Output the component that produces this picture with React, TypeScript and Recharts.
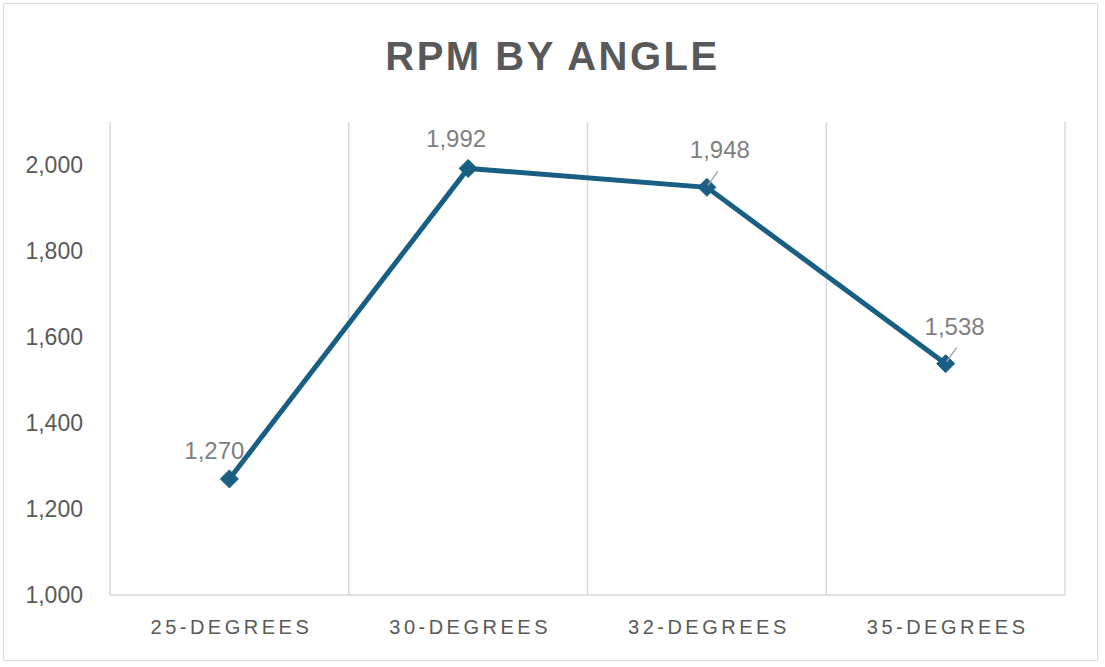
import { LineChart, Line, XAxis, YAxis, CartesianGrid, LabelList } from 'recharts'

const angles = ['25-DEGREES', '30-DEGREES', '32-DEGREES', '35-DEGREES']
const rpm = [1270, 1992, 1948, 1538]
const yTicks = [1000, 1200, 1400, 1600, 1800, 2000]

const data = angles.map((angle, i) => ({ angle, rpm: rpm[i] }))

const LINE = '#195e83'
const GRID = '#d9d9d9'
const FONT = '"Liberation Sans", Arial, sans-serif'

// label placement relative to its point (Excel-style nudges)
const labelNudge = [
  { dx: -15, dy: -20, leader: false },
  { dx: -12, dy: -21, leader: false },
  { dx: 13, dy: -29, leader: true },
  { dx: 9, dy: -29, leader: true },
]

function Diamond(props: any) {
  const { cx, cy } = props
  if (cx == null || cy == null) return null
  const r = 9
  return (
    <polygon
      points={`${cx},${cy - r} ${cx + r},${cy} ${cx},${cy + r} ${cx - r},${cy}`}
      fill={LINE}
      stroke={LINE}
      strokeWidth={1}
    />
  )
}

function PointLabel(props: any) {
  const { x, y, value, index } = props
  const n = labelNudge[index] || { dx: 0, dy: -20, leader: false }
  return (
    <g>
      {n.leader && (
        <line x1={x + 1} y1={y - 2} x2={x + 11} y2={y - 16} stroke="#a6a6a6" strokeWidth={1.5} />
      )}
      <text x={x + n.dx} y={y + n.dy} textAnchor="middle" fill="#7f7f7f" fontSize={24} fontFamily={FONT}>
        {Number(value).toLocaleString('en-US')}
      </text>
    </g>
  )
}

function AngleTick(props: any) {
  const { x, y, payload } = props
  return (
    <text x={x + 2} y={y + 39} textAnchor="middle" fill="#595959" fontSize={20} fontFamily={FONT} letterSpacing={3.5}>
      {payload.value}
    </text>
  )
}

export default function App() {
  return (
    <div style={{ position: 'absolute', left: 0, top: 0, width: 1105, height: 667, background: '#fff' }}>
      <div
        style={{
          position: 'absolute', left: 3, top: 3, width: 1093, height: 656,
          border: `1.5px solid ${GRID}`, borderRadius: 2,
        }}
      />
      <div
        style={{
          position: 'absolute', left: 0, top: 31, width: 1105, textAlign: 'center',
          fontFamily: FONT, fontWeight: 700, fontSize: 40, letterSpacing: 2.5, color: '#595959', lineHeight: '50px',
        }}
      >
        RPM BY ANGLE
      </div>
      <div style={{ position: 'absolute', left: 0, top: 0 }}>
        <LineChart width={1105} height={667} data={data} margin={{ top: 122, right: 40, left: 10, bottom: 32 }}>
          <CartesianGrid
            horizontal={false}
            stroke={GRID}
            strokeWidth={1.5}
            verticalCoordinatesGenerator={({ offset }: any) =>
              Array.from({ length: angles.length + 1 }, (_, i) => offset.left + (offset.width * i) / angles.length)
            }
          />
          <XAxis
            dataKey="angle"
            scale="band"
            axisLine={{ stroke: GRID, strokeWidth: 1.5 }}
            tickLine={false}
            tickSize={0}
            tickMargin={0}
            height={40}
            tick={<AngleTick />}
            interval={0}
          />
          <YAxis
            domain={[1000, 2100]}
            ticks={yTicks}
            axisLine={false}
            tickLine={false}
            tickSize={0}
            tickMargin={27}
            width={100}
            tick={{ fill: '#595959', fontSize: 23, fontFamily: FONT }}
            tickFormatter={(v: number) => v.toLocaleString('en-US')}
          />
          <Line
            type="linear"
            dataKey="rpm"
            stroke={LINE}
            strokeWidth={5}
            dot={<Diamond />}
            activeDot={false}
            isAnimationActive={false}
          >
            <LabelList dataKey="rpm" content={<PointLabel />} />
          </Line>
        </LineChart>
      </div>
    </div>
  )
}
